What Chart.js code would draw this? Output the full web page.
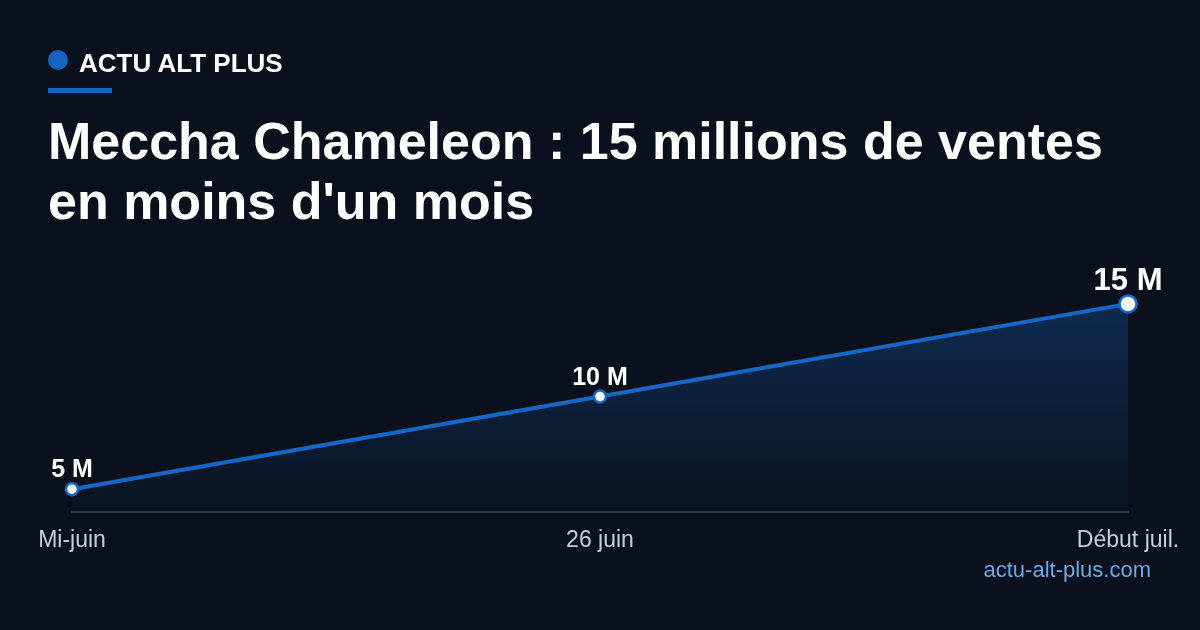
<!DOCTYPE html>
<html>
<head>
<meta charset="utf-8">
<script src="https://cdn.jsdelivr.net/npm/chart.js@4"></script>
<style>
  html,body{margin:0;padding:0;background:#0b111c;}
  #wrap{position:relative;width:1200px;height:630px;overflow:hidden;background:#0b111c;font-family:"Liberation Sans",Arial,sans-serif;}
  #c{position:absolute;left:0;top:0;}
  .brand{position:absolute;left:48px;top:48px;display:flex;align-items:center;color:#fff;font-weight:bold;font-size:26px;letter-spacing:0px;}
  .dot{width:20px;height:20px;border-radius:50%;background:#1565c0;margin-right:11px;margin-top:-7px;}
  .bar{position:absolute;left:48px;top:88px;width:64px;height:5px;background:#1565c0;}
  h1{position:absolute;left:48px;top:111px;margin:0;color:#fff;font-size:52px;line-height:60px;font-weight:bold;}
  .src{position:absolute;right:49px;top:557px;color:#6fa8e6;font-size:22px;}
</style>
</head>
<body>
<div id="wrap">
  <canvas id="c" width="1200" height="630"></canvas>
  <div class="brand"><div class="dot"></div>ACTU ALT PLUS</div>
  <div class="bar"></div>
  <h1>Meccha Chameleon : 15 millions de ventes<br>en moins d'un mois</h1>
  <div class="src">actu-alt-plus.com</div>
</div>
<script>
const categories = ["Mi-juin", "26 juin", "Début juil."];
const salesMillions = [5, 10, 15];
const valueLabels = ["5 M", "10 M", "15 M"];

const labelPlugin = {
  id: 'valueLabels',
  afterDatasetsDraw(chart) {
    const ctx = chart.ctx;
    const meta = chart.getDatasetMeta(0);
    meta.data.forEach((pt, i) => {
      const last = i === meta.data.length - 1;
      ctx.save();
      ctx.fillStyle = '#ffffff';
      ctx.font = 'bold ' + (last ? 31 : 25) + 'px "Liberation Sans", Arial, sans-serif';
      ctx.textAlign = 'center';
      ctx.textBaseline = 'alphabetic';
      ctx.fillText(valueLabels[i], pt.x, pt.y - (last ? 14 : 12));
      ctx.restore();
    });
  }
};

new Chart(document.getElementById('c'), {
  type: 'line',
  data: {
    labels: categories,
    datasets: [{
      data: salesMillions,
      borderColor: '#1668c8',
      borderWidth: 4,
      fill: 'start',
      backgroundColor: (context) => {
        const ch = context.chart;
        const a = ch.chartArea;
        if (!a) return 'rgba(21,101,192,0.2)';
        const g = ch.ctx.createLinearGradient(0, a.top, 0, a.bottom);
        g.addColorStop(0, 'rgba(22,104,200,0.32)');
        g.addColorStop(1, 'rgba(22,104,200,0.03)');
        return g;
      },
      pointRadius: [6, 6, 8.5],
      pointBackgroundColor: '#ffffff',
      pointBorderColor: '#1668c8',
      pointBorderWidth: 2.5,
      tension: 0,
      clip: false
    }]
  },
  options: {
    responsive: false,
    animation: false,
    devicePixelRatio: 1,
    layout: { padding: { left: 72, right: 72, top: 290, bottom: 70 } },
    plugins: { legend: { display: false }, tooltip: { enabled: false } },
    scales: {
      x: {
        offset: false,
        grid: { display: false },
        border: { display: true, color: '#2b3547', width: 2 },
        ticks: {
          color: '#c5cfdc',
          font: { size: 23, family: '"Liberation Sans", Arial, sans-serif' },
          padding: 6,
          maxRotation: 0,
          autoSkip: false
        }
      },
      y: { display: false, min: 3.75, max: 15.75 }
    }
  },
  plugins: [labelPlugin]
});
</script>
</body>
</html>
